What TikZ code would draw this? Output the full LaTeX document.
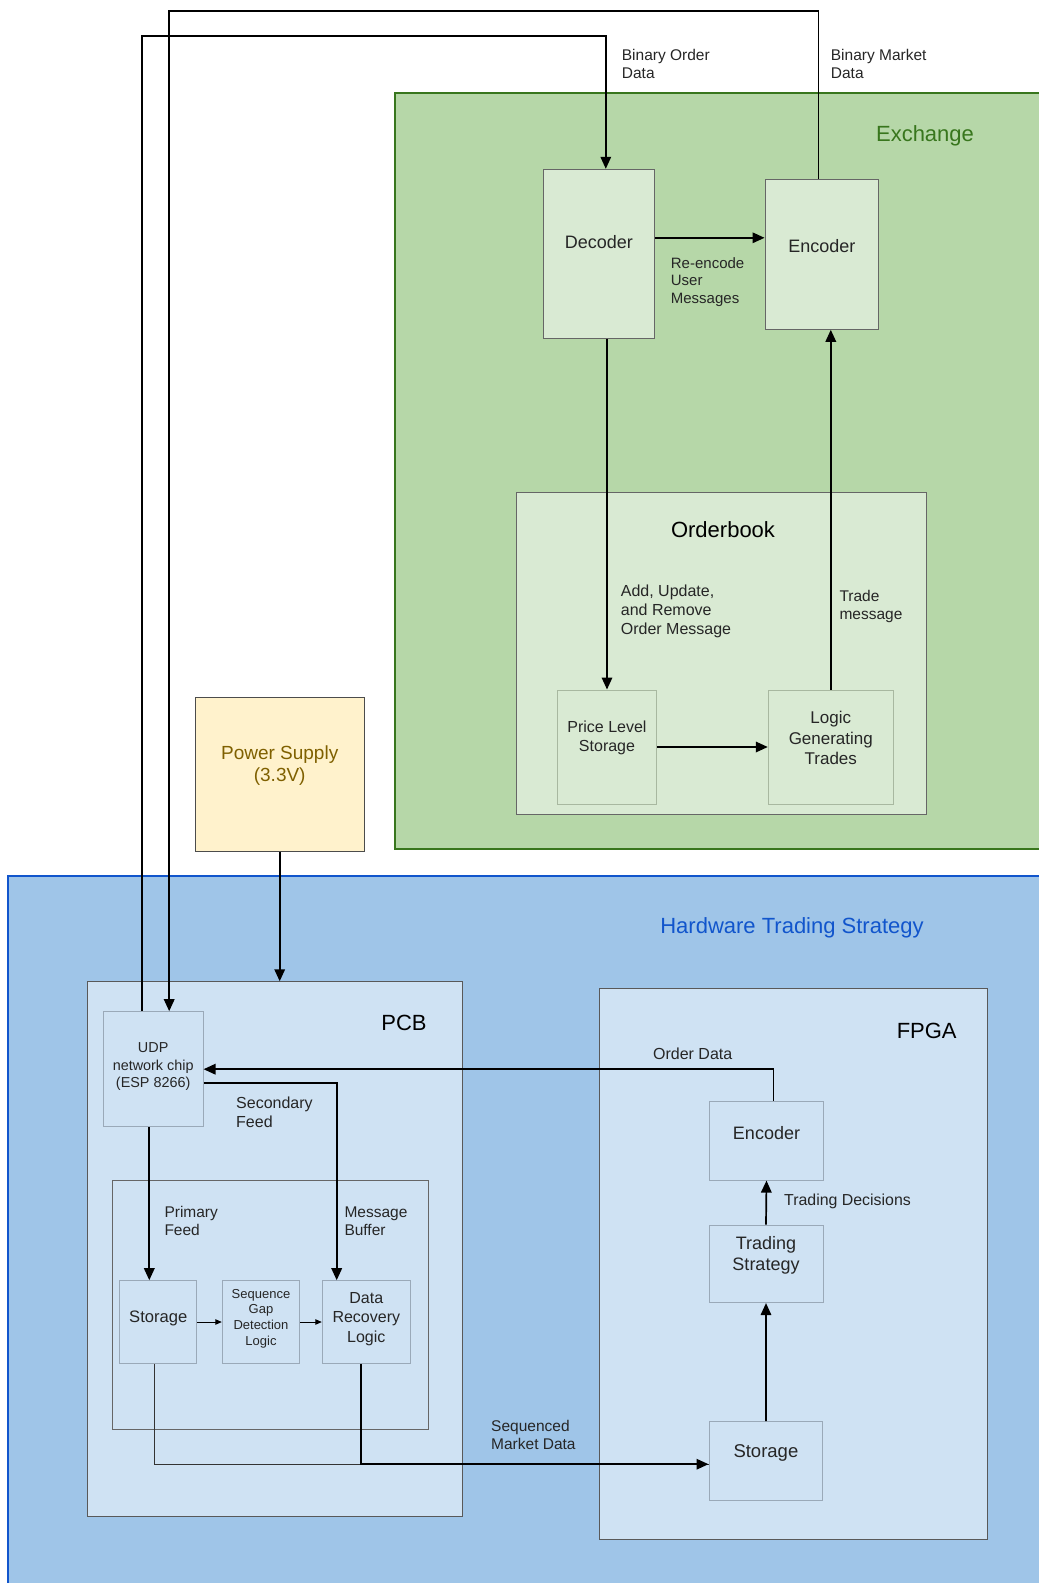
\documentclass[tikz,border=0pt]{standalone}
\usepackage{fontspec}
\setmainfont{Liberation Sans}
\usepackage{xcolor}
\usetikzlibrary{arrows.meta, positioning, calc}

\definecolor{exfill}{HTML}{B6D7A8}
\definecolor{exline}{HTML}{38761D}
\definecolor{exinner}{HTML}{D9EAD3}
\definecolor{exblock}{HTML}{A8B8A0}
\definecolor{hwfill}{HTML}{9FC5E8}
\definecolor{hwline}{HTML}{1155CC}
\definecolor{hwinner}{HTML}{CFE2F3}
\definecolor{hwblock}{HTML}{9AA9B8}
\definecolor{pwfill}{HTML}{FFF2CC}
\definecolor{pwtext}{HTML}{7F6000}
\definecolor{edge}{HTML}{666666}

\newcommand{\fsz}[2]{\fontsize{#1}{#2}\selectfont}

\tikzset{
  region/.style={draw, rectangle, inner sep=0pt, line width=1pt},
  inside/.style={align=center, inner sep=0pt, text=black!85, yshift=#1},
  note/.style={align=left, inner sep=0pt, anchor=west, text=black!85, font=\fsz{15.5}{18.5}},
  title/.style={inner sep=0pt, font=\fsz{22}{26}},
  wire/.style={line width=1.7pt, -{Triangle[length=12pt,width=10.5pt]}},
  link/.style={line width=1.7pt},
  thinwire/.style={line width=0.9pt, -{Triangle[length=6.5pt,width=5.5pt]}}
}

\begin{document}
\begin{tikzpicture}[x=1pt, y=-1pt]
    \useasboundingbox (0,0) rectangle (1039,1583);

    % exchange
    \node[region, draw=exline, line width=1.5pt, fill=exfill, minimum width=650pt, minimum height=756pt] (exch) at (720,471) {};
    \node[title, text=exline] (exlbl) at (925,136) {Exchange};
    \node[region, draw=edge, fill=exinner, minimum width=111pt, minimum height=169pt,
          label={[inside=12pt, font=\fsz{18}{21}]center:Decoder}] (dec) at (598.8,253.8) {};
    \node[region, draw=edge, fill=exinner, minimum width=113.7pt, minimum height=150pt,
          label={[inside=8.5pt, font=\fsz{18}{21}]center:Encoder}] (xenc) at (821.9,254.3) {};
    \node[region, draw=edge, fill=exinner, minimum width=409.3pt, minimum height=322pt] (obook) at (721.4,653) {};
    \node[title, text=black] (oblbl) at (723,529.5) {Orderbook};
    \node[region, draw=exblock, fill=exinner, minimum width=99.4pt, minimum height=114pt,
          label={[inside=9pt, font=\fsz{16}{19.4}]center:{Price Level\\Storage}}] (pls) at (607,747) {};
    \node[region, draw=exblock, fill=exinner, minimum width=125pt, minimum height=114pt,
          label={[inside=9pt, font=\fsz{17}{20.3}]center:{Logic\\Generating\\Trades}}] (lgt) at (830.8,747) {};

    % power
    \node[region, draw=black!70, fill=pwfill, minimum width=169pt, minimum height=154pt,
          label={[inside=8pt, font=\fsz{19}{22}, text=pwtext]center:{Power Supply\\(3.3V)}}] (pwr) at (279.7,774) {};

    % hardware side
    \node[region, draw=hwline, line width=1.5pt, fill=hwfill, minimum width=1037pt, minimum height=716pt] (hts) at (526.5,1234) {};
    \node[title, text=hwline] (htslbl) at (792,928) {Hardware Trading Strategy};
    \node[region, draw=black!65, fill=hwinner, minimum width=374.7pt, minimum height=534.3pt] (pcb) at (274.7,1248.9) {};
    \node[title, text=black] (pcblbl) at (404,1022.5) {PCB};
    \node[region, draw=hwblock, fill=hwinner, minimum width=99.7pt, minimum height=115pt,
          label={[inside=2.5pt, font=\fsz{14.4}{17.7}]center:{UDP\\network chip\\(ESP 8266)}}] (udp) at (153.2,1069.2) {};
    \node[region, draw=edge, fill=hwinner, minimum width=316pt, minimum height=249.3pt] (feeds) at (270,1304.7) {};
    \node[region, draw=hwblock, fill=hwinner, minimum width=76.7pt, minimum height=82.6pt,
          label={[inside=4pt, font=\fsz{16.6}{19.5}]center:Storage}] (pst) at (158.3,1322) {};
    \node[region, draw=hwblock, fill=hwinner, minimum width=77.4pt, minimum height=82.6pt,
          label={[inside=3.5pt, font=\fsz{13}{15.6}]center:{Sequence\\Gap\\Detection\\Logic}}] (sgd) at (261,1322) {};
    \node[region, draw=hwblock, fill=hwinner, minimum width=88pt, minimum height=82.6pt,
          label={[inside=3pt, font=\fsz{16}{19.5}]center:{Data\\Recovery\\Logic}}] (drl) at (366.3,1322) {};
    \node[region, draw=black!65, fill=hwinner, minimum width=388pt, minimum height=550.7pt] (fpga) at (793,1263.7) {};
    \node[title, text=black] (fpgalbl) at (926.7,1031) {FPGA};
    \node[region, draw=hwblock, fill=hwinner, minimum width=114.4pt, minimum height=78.7pt,
          label={[inside=8pt, font=\fsz{18}{21}]center:Encoder}] (fenc) at (766.5,1140.7) {};
    \node[region, draw=hwblock, fill=hwinner, minimum width=114pt, minimum height=77.5pt,
          label={[inside=8pt, font=\fsz{18}{21}]center:{Trading\\Strategy}}] (fts) at (766,1263.8) {};
    \node[region, draw=hwblock, fill=hwinner, minimum width=113.8pt, minimum height=79pt,
          label={[inside=8.5pt, font=\fsz{18.5}{21}]center:Storage}] (fst) at (765.9,1461.2) {};

    % wire corners
    \coordinate (ordrail) at (0,36);
    \coordinate (mktrail) at (0,11);
    \coordinate (udpout) at ([xshift=-11pt]udp.north);
    \coordinate (udpin) at ([xshift=16pt]udp.north);
    \coordinate (decin) at ([xshift=7pt]dec.north);
    \coordinate (encout) at ([xshift=-3.5pt]xenc.north);
    \coordinate (reenc) at ([yshift=16pt]dec.east);
    \coordinate (ordout) at ([xshift=7pt]fenc.north);
    \coordinate (secout) at ([yshift=-14pt]udp.east);
    \coordinate (bufin) at ([xshift=-29.6pt]drl.north);
    \coordinate (priin) at ([xshift=-9pt]pst.north);
    \coordinate (stout) at ([xshift=-4pt]pst.south);
    \coordinate (drlout) at ([xshift=-5pt]drl.south);
    \coordinate (seqin) at ([yshift=-3pt]fst.west);

    \draw[wire] (udpout) |- (decin |- ordrail) -- (decin);
    \draw[wire] (encout) |- (udpin |- mktrail) -- (udpin);
    \draw[wire] (reenc) -- (reenc -| xenc.west);
    \draw[wire] (dec.south -| pls.north) -- (pls.north);
    \draw[wire] (pls.east) -- (lgt.west);
    \draw[wire] (lgt.north) -- (lgt.north |- xenc.south);
    \draw[wire] (pwr.south) -- (pwr.south |- pcb.north);
    \draw[wire] (ordout) |- (udp.east);
    \draw[wire] (secout) -| (bufin);
    \draw[wire] (udp.south -| priin) -- (priin);
    \draw[thinwire] (pst.east) -- (sgd.west);
    \draw[thinwire] (sgd.east) -- (drl.west);
    \draw[line width=1.1pt, black!80] (stout) |- (seqin);
    \draw[wire] (drlout) |- (seqin);
    \draw[wire] (fst.north) -- (fts.south);
    \draw[wire] (fts.north) -- (fenc.south);

    % connector labels
    \node[note] (ordlbl) at (621.7,64) {Binary Order\\Data};
    \node[note] (mktlbl) at (830.7,64) {Binary Market\\Data};
    \node[note, font=\fsz{15}{17.5}] (reenclbl) at (670.7,281.7) {Re-encode\\User\\Messages};
    \node[note, font=\fsz{16}{19}] (addlbl) at (620.7,611.7) {Add, Update,\\and Remove\\Order Message};
    \node[note] (tradelbl) at (839.3,606.3) {Trade\\message};
    \node[note, font=\fsz{16}{19}] (seclbl) at (236,1112) {Secondary\\Feed};
    \node[note] (prilbl) at (164.3,1221) {Primary\\Feed};
    \node[note] (buflbl) at (344.3,1221) {Message\\Buffer};
    \node[note, anchor=center, font=\fsz{16}{19}] (odlbl) at (692.7,1054) {Order Data};
    \node[note, font=\fsz{15.9}{19}] (declbl) at (784,1201.7) {Trading Decisions};
    \node[note] (seqlbl) at (491,1435) {Sequenced\\Market Data};
\end{tikzpicture}
\end{document}
